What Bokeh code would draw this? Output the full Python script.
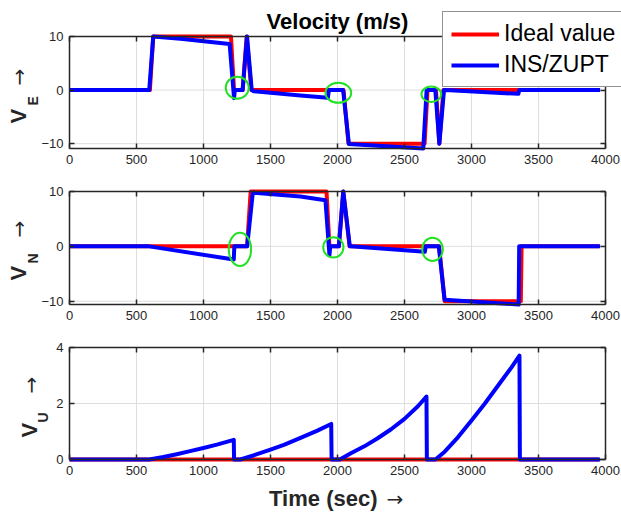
import math
from bokeh.plotting import figure
from bokeh.models import Range1d, FixedTicker, LinearAxis, Label, Legend, LegendItem
from bokeh.embed import file_html
from bokeh.resources import INLINE

# ---------------- data ----------------
x_ticks = [0, 500, 1000, 1500, 2000, 2500, 3000, 3500, 4000]
vel_ticks = [-10, 0, 10]
vu_ticks = [0, 2, 4]
x_lim = (0, 4000)
ve_lim = (-10.9, 10)
vn_lim = (-10.6, 10)
vu_lim = (0, 4)

# East velocity
t_e_ideal = [0, 600, 625, 1205, 1228, 1292, 1322, 1357, 2045, 2082, 2650, 2672, 2735, 2760, 2790, 3950]
ve_ideal = [0, 0, 10, 10, 0, 0, 10, 0, 0, -10, -10, 0, 0, -10, 0, 0]
t_e_ins = [0, 595, 625, 828, 1195, 1228, 1234, 1292, 1325, 1360, 1372, 1724, 1928, 1936, 2042, 2085,
           2640, 2665, 2730, 2760, 2795, 2805, 3350, 3356, 3960]
ve_ins = [0, 0, 10, 9.6, 8.6, -1.5, 0, 0, 10, 0, -0.2, -1.0, -1.45, 0, 0, -10.05,
          -10.9, 0, 0, -10, 0, 0, -0.7, 0, 0]

# North velocity
t_n_ideal = [0, 1325, 1352, 1918, 1940, 2010, 2043, 2090, 2758, 2800, 3368, 3374, 3950]
vn_ideal = [0, 0, 10, 10, 0, 0, 10, 0, 0, -10, -10, 0, 0]
t_n_ins = [0, 595, 1226, 1230, 1326, 1368, 1724, 1910, 1940, 1946, 2010, 2043, 2092, 2100,
           2652, 2658, 2756, 2799, 3352, 3356, 3960]
vn_ins = [0, 0, -2.4, 0, 0, 9.8, 9.1, 8.4, -1.6, 0, 0, 10, 0, 0,
          -1.0, 0, 0, -9.75, -10.6, 0, 0]

# Up velocity
t_u_ideal = [0, 3950]
vu_ideal = [0, 0]
t_u_ins = [0, 595, 700, 800, 900, 1000, 1100, 1226, 1228, 1276,
           1400, 1500, 1600, 1724, 1850, 1953, 1956, 2017,
           2100, 2200, 2300, 2400, 2500, 2600, 2664, 2667, 2731,
           2800, 2900, 3000, 3100, 3200, 3300, 3358, 3361, 3960]
vu_ins = [0, 0, 0.09, 0.19, 0.30, 0.41, 0.53, 0.70, 0, 0,
          0.19, 0.35, 0.52, 0.77, 1.03, 1.27, 0, 0,
          0.22, 0.47, 0.76, 1.08, 1.45, 1.9, 2.25, 0, 0,
          0.28, 0.8, 1.39, 2.0, 2.65, 3.3, 3.71, 0, 0]

# green ZUPT markers (centre, size)
e_mark_x = [1252, 2006, 2700]
e_mark_y = [0.43, -0.5, -0.78]
e_mark_w = [172, 192, 147]
e_mark_h = [4.1, 3.74, 2.86]
n_mark_x = [1272, 1969, 2709]
n_mark_y = [-0.55, -0.18, -0.55]
n_mark_w = [167, 151, 154]
n_mark_h = [6.06, 3.72, 4.22]

# ---------------- layout (pixels) ----------------
W, H = 621, 514
AX_L, AX_R = 69, 605
BANDS = {"e": (36, 148), "n": (191, 304), "u": (347, 459)}

FONT = "Liberation Sans"
DARK = "#262626"
RED = "#ff0000"
BLUE = "#0000ff"
GREEN = "#22e022"
GRID = "#dedede"

kx = (AX_R - AX_L) / (x_lim[1] - x_lim[0])
x_range = Range1d(x_lim[0] - AX_L / kx, x_lim[1] + (W - AX_R) / kx)


def band_range(lim, band):
    top, bot = band
    u = (lim[1] - lim[0]) / (bot - top)
    return Range1d(lim[0] - (H - bot) * u, lim[1] + top * u)


p = figure(width=W, height=H, x_range=x_range, y_range=band_range(vu_lim, BANDS["u"]),
           output_backend="svg", toolbar_location=None,
           min_border_left=0, min_border_right=0, min_border_top=0, min_border_bottom=0)
p.extra_y_ranges = {"e": band_range(ve_lim, BANDS["e"]), "n": band_range(vn_lim, BANDS["n"])}
p.xaxis.visible = False
p.yaxis.visible = False
p.xgrid.visible = False
p.ygrid.visible = False
p.outline_line_color = None
p.background_fill_color = "white"
p.border_fill_color = "white"


def style_axis(ax, show_labels):
    ax.axis_line_color = DARK
    ax.axis_line_width = 1.5
    ax.major_tick_line_color = DARK
    ax.major_tick_line_width = 1.5
    ax.major_tick_in = 5
    ax.major_tick_out = 0
    ax.minor_tick_in = 0
    ax.minor_tick_out = 0
    ax.minor_tick_line_color = None
    ax.major_label_text_font = FONT
    ax.major_label_text_font_size = "13px"
    ax.major_label_standoff = 6
    ax.major_label_text_color = DARK if show_labels else None


def subplot(name, ylim, yticks):
    rn = "default" if name == "u" else name
    gx = list(x_ticks)
    p.segment(x0=gx, x1=gx, y0=[ylim[0]] * len(gx), y1=[ylim[1]] * len(gx),
              line_color=GRID, line_width=1, y_range_name=rn)
    p.segment(x0=[x_lim[0]] * len(yticks), x1=[x_lim[1]] * len(yticks), y0=yticks, y1=yticks,
              line_color=GRID, line_width=1, y_range_name=rn)
    for side, loc, show in (("left", x_lim[0], True), ("right", x_lim[1], False)):
        ax = LinearAxis(y_range_name=rn, fixed_location=loc, bounds=ylim,
                        ticker=FixedTicker(ticks=yticks))
        style_axis(ax, show)
        p.add_layout(ax, side)
    for side, loc, show in (("below", ylim[0], True), ("above", ylim[1], False)):
        ax = LinearAxis(y_range_name=rn, fixed_location=loc, bounds=x_lim,
                        ticker=FixedTicker(ticks=x_ticks))
        style_axis(ax, show)
        p.add_layout(ax, side)
    return rn


SHIFT = 7  # rendered baseline offset correction


def ylabel(sub, v_xy, s_xy, a_xy):
    p.add_layout(Label(x=v_xy[0] - SHIFT, y=H - v_xy[1], x_units="screen", y_units="screen", text="V",
                       angle=math.pi / 2, text_font=FONT, text_font_size="22px",
                       text_font_style="bold", text_color=DARK,
                       text_align="left", text_baseline="alphabetic"))
    p.add_layout(Label(x=s_xy[0] - SHIFT + 2, y=H - s_xy[1], x_units="screen", y_units="screen", text=sub,
                       angle=math.pi / 2, text_font=FONT, text_font_size="14px",
                       text_font_style="bold", text_color=DARK,
                       text_align="left", text_baseline="alphabetic"))
    p.add_layout(Label(x=a_xy[0] - SHIFT, y=H - a_xy[1], x_units="screen", y_units="screen", text="\u2192",
                       angle=math.pi / 2, text_font="DejaVu Sans", text_font_size="20px",
                       text_color=DARK, text_align="left", text_baseline="alphabetic"))


# ---------- East ----------
rn = subplot("e", ve_lim, vel_ticks)
r1 = p.line(t_e_ideal, ve_ideal, line_color=RED, line_width=4, line_join="round", y_range_name=rn)
b1 = p.line(t_e_ins, ve_ins, line_color=BLUE, line_width=4, line_join="round", y_range_name=rn)
p.ellipse(x=e_mark_x, y=e_mark_y, width=e_mark_w, height=e_mark_h, fill_color=None,
          line_color=GREEN, line_width=2, y_range_name=rn)
ylabel("E", (25, 123), (37, 105), (25, 85))

# ---------- North ----------
rn = subplot("n", vn_lim, vel_ticks)
p.line(t_n_ideal, vn_ideal, line_color=RED, line_width=4, line_join="round", y_range_name=rn)
p.line(t_n_ins, vn_ins, line_color=BLUE, line_width=4, line_join="round", y_range_name=rn)
p.ellipse(x=n_mark_x, y=n_mark_y, width=n_mark_w, height=n_mark_h, fill_color=None,
          line_color=GREEN, line_width=2, y_range_name=rn)
ylabel("N", (25, 280), (37, 263), (25, 237))

# ---------- Up ----------
rn = subplot("u", vu_lim, vu_ticks)
p.line(t_u_ideal, vu_ideal, line_color=RED, line_width=4, line_join="round", y_range_name=rn)
p.line(t_u_ins, vu_ins, line_color=BLUE, line_width=4, line_join="round", y_range_name=rn)
ylabel("U", (36, 437), (47, 422), (37, 393))

# ---------- texts ----------
p.add_layout(Label(x=337, y=H - 25 + 4, x_units="screen", y_units="screen", text="Velocity (m/s)",
                   text_font=FONT, text_font_size="22px", text_font_style="bold",
                   text_color="black", text_align="center", text_baseline="alphabetic"))
p.add_layout(Label(x=377, y=H - 503 + 5, x_units="screen", y_units="screen", text="Time (sec)",
                   text_font=FONT, text_font_size="22px", text_font_style="bold",
                   text_color=DARK, text_align="right", text_baseline="alphabetic"))
p.add_layout(Label(x=386, y=H - 503 + 5, x_units="screen", y_units="screen", text="\u2192",
                   text_font="DejaVu Sans", text_font_size="20px",
                   text_color=DARK, text_align="left", text_baseline="alphabetic"))

leg = Legend(items=[LegendItem(label="Ideal value", renderers=[r1]),
                    LegendItem(label="INS/ZUPT", renderers=[b1])],
             location=(442, H - 87), label_text_font=FONT, label_text_font_size="23px",
             label_text_color="black", glyph_width=48, glyph_height=26, label_height=26,
             label_standoff=5, padding=8, spacing=4, margin=0,
             border_line_color=DARK, border_line_width=1, background_fill_alpha=1)
p.add_layout(leg)

open("out.html", "w").write(file_html(p, INLINE))
